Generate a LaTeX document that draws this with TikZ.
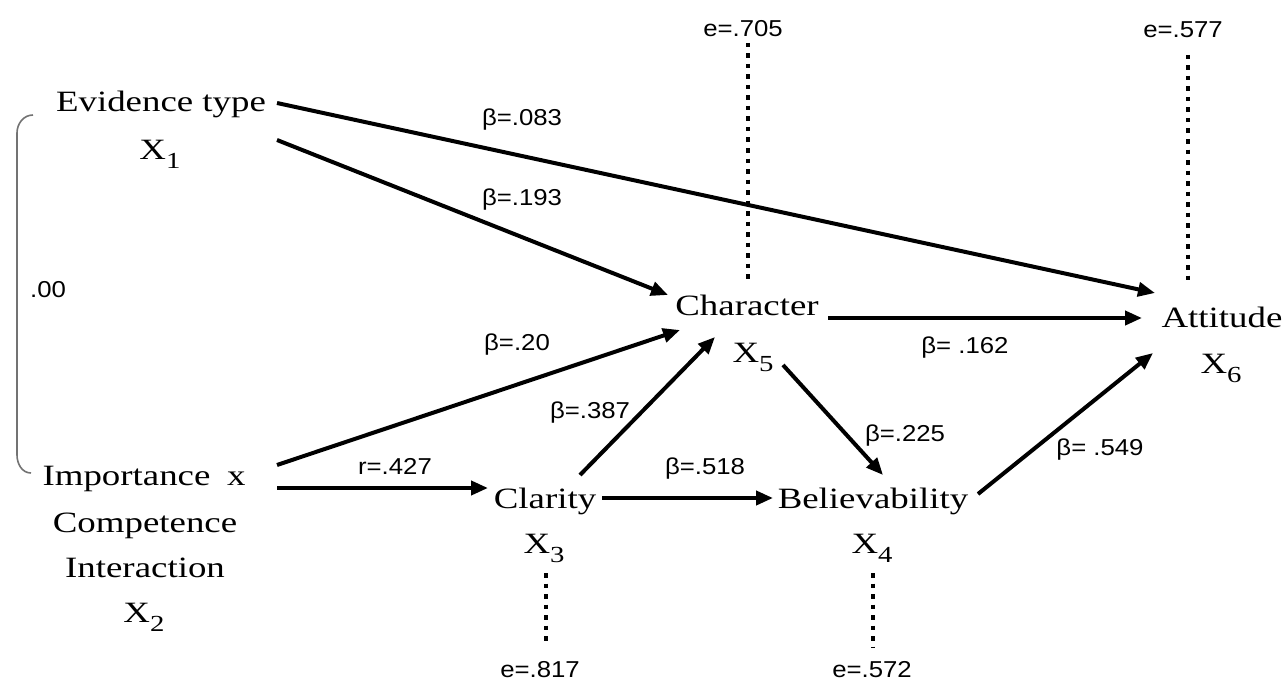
\documentclass[tikz,border=0pt]{standalone}
\usepackage{fontspec}
\usepackage{graphicx}
\setmainfont{Liberation Serif}
\setsansfont{Liberation Sans}
\usetikzlibrary{arrows.meta,calc}
\newcommand{\mt}[1]{\scalebox{1.25}[1]{\fontsize{29.5}{34}\selectfont #1}}
\newcommand{\lb}[1]{\scalebox{1.12}[1]{\fontsize{23}{26}\selectfont\sffamily #1}}
\newcommand{\xsub}[1]{\raisebox{-9pt}{\fontsize{23}{23}\selectfont #1}}
\tikzset{
  txt/.style={inner sep=0pt, anchor=base},
  lab/.style={inner sep=0pt},
  arr/.style={line width=4pt, -{Triangle[length=17pt,width=14pt]}},
  err/.style={line width=4.5pt, dash pattern=on 4.5pt off 6pt},
  brk/.style={line width=1.6pt, draw=black!55}
}
\begin{document}
\begin{tikzpicture}[x=1pt,y=-1pt]
\useasboundingbox[fill=white] (0,0) rectangle (1287,682);
% variable nodes
\node[txt] (ev) at (161,112) {\mt{Evidence type}};
\node[txt] (x1) at (160,160) {\mt{X\xsub{1}}};
\node[txt] (imp) at (144,485) {\mt{Importance\hspace{0.45em}x}};
\node[txt] (comp) at (145,532) {\mt{Competence}};
\node[txt] (inter) at (145,577) {\mt{Interaction}};
\node[txt] (x2) at (144,622) {\mt{X\xsub{2}}};
\node[txt] (char) at (747,315) {\mt{Character}};
\node[txt] (x5) at (753,362) {\mt{X\xsub{5}}};
\node[txt] (att) at (1222,327) {\mt{Attitude}};
\node[txt] (x6) at (1221,373) {\mt{X\xsub{6}}};
\node[txt] (cla) at (545,508) {\mt{Clarity}};
\node[txt] (x3) at (544,553) {\mt{X\xsub{3}}};
\node[txt] (bel) at (873,508) {\mt{Believability}};
\node[txt] (x4) at (872,553) {\mt{X\xsub{4}}};
% error labels
\node[txt] (e705) at (743,37) {\lb{e=.705}};
\node[txt] (e577) at (1183,38) {\lb{e=.577}};
\node[txt] (e817) at (540,677) {\lb{e=.817}};
\node[txt] (e572) at (872,677) {\lb{e=.572}};
% path arrows
\draw[arr] ([shift={(116,-9)}]ev.base) -- ([shift={(-67,-34)}]att.base);
\draw[arr] ([shift={(116,28)}]ev.base) -- ([shift={(-79,-20)}]char.base);
\draw[arr] ([shift={(133,-20)}]imp.base) -- ([shift={(-67,15)}]char.base);
\draw[arr] ([shift={(133,3)}]imp.base) -- ([shift={(-57,-20)}]cla.base);
\draw[arr] ([shift={(35,-33)}]cla.base) -- ([shift={(-32,22)}]char.base);
\draw[arr] ([shift={(57,-10)}]cla.base) -- ([shift={(-100,-10)}]bel.base);
\draw[arr] ([shift={(81,3)}]char.base) -- ([shift={(-80,-9)}]att.base);
\draw[arr] ([shift={(30,3)}]x5.base) -- ([shift={(10,-33)}]bel.base);
\draw[arr] ([shift={(105,-14)}]bel.base) -- ([shift={(-69,26)}]att.base);
% error terms
\draw[err] ([shift={(5,6)}]e705.base) -- ([shift={(1,-32)}]char.base);
\draw[err] ([shift={(5,17)}]e577.base) -- ([shift={(-34,-44)}]att.base);
\draw[err] ([shift={(2,20)}]x3.base) -- ([shift={(6,-32)}]e817.base);
\draw[err] ([shift={(1,20)}]x4.base) -- ([shift={(1,-30)}]e572.base);
% correlation bracket
\coordinate (bt) at (33,115);
\coordinate (bb) at (31,473);
\draw[brk] (bt) to[out=180,in=90] (17,133) -- (17,455) to[out=-90,in=180] (bb);
\node[lab] (r00) at (48,290) {\lb{.00}};
% coefficient labels
\node[lab] (b083) at (522,120) {\lb{β=.083}};
\node[lab] (b193) at (522,200) {\lb{β=.193}};
\node[lab] (b20) at (517,345) {\lb{β=.20}};
\node[lab] (r427) at (395,466) {\lb{r=.427}};
\node[lab] (b387) at (590,413) {\lb{β=.387}};
\node[lab] (b518) at (705,469) {\lb{β=.518}};
\node[lab] (b162) at (965,348) {\lb{β= .162}};
\node[lab] (b225) at (905,436) {\lb{β=.225}};
\node[lab] (b549) at (1100,450) {\lb{β= .549}};
\end{tikzpicture}
\end{document}
